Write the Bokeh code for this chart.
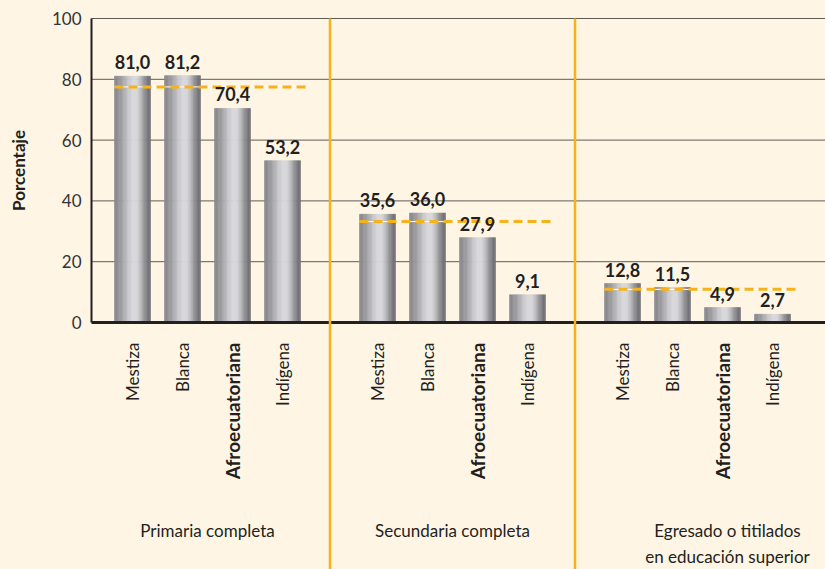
import math
from bokeh.plotting import figure
from bokeh.models import ColumnDataSource, Range1d
from bokeh.core.properties import value
from bokeh.embed import file_html
from bokeh.resources import INLINE

# ---------------- data ----------------
groups = ["Primaria completa", "Secundaria completa",
          "Egresado o titilados\nen educación superior"]
ethnicities = ["Mestiza", "Blanca", "Afroecuatoriana", "Indígena"]
primaria = [81.0, 81.2, 70.4, 53.2]
secundaria = [35.6, 36.0, 27.9, 9.1]
superior = [12.8, 11.5, 4.9, 2.7]
averages = [77.5, 33.2, 10.9]          # dashed reference lines
bold_category = "Afroecuatoriana"
y_ticks = [0, 20, 40, 60, 80, 100]
y_title = "Porcentaje"

series = [primaria, secundaria, superior]

# ---------------- style ----------------
BG = "#FEF5E5"
ORANGE = "#F6B21B"
INK = "#231F20"
FONT = "Lato"
GROUP_STEP = 4.9
BAR_W = 0.72
N_STRIPS = 28

# full-canvas frame: 50 px per category unit, 3.04 px per percentage point
X0, X1 = -2.64, 13.86
Y0, Y1 = -81.25, 105.92
AXIS_X = -0.82

xs, tops, texts, cats = [], [], [], []
for g, vals in enumerate(series):
    for i, v in enumerate(vals):
        xs.append(g * GROUP_STEP + i)
        tops.append(v)
        texts.append(f"{v:.1f}".replace(".", ","))
        cats.append(ethnicities[i])

p = figure(width=825, height=569, x_range=Range1d(X0, X1),
           y_range=Range1d(Y0, Y1), output_backend="svg",
           toolbar_location=None, min_border=0)
p.background_fill_color = BG
p.border_fill_color = BG
p.outline_line_color = None
p.axis.visible = False
p.grid.visible = False

# gridlines
p.segment(x0=[AXIS_X] * (len(y_ticks) - 1), y0=y_ticks[1:],
          x1=[X1] * (len(y_ticks) - 1), y1=y_ticks[1:],
          line_color="#5E5B57", line_width=1)


# gradient bars built from vertical strips
def shade(t):
    pts = [(0.0, 0x8A), (0.58, 0xD8), (1.0, 0x72)]
    for (t0, c0), (t1, c1) in zip(pts[:-1], pts[1:]):
        if t0 <= t <= t1:
            u = (t - t0) / (t1 - t0)
            u = (1 - math.cos(math.pi * u)) / 2
            return c0 + (c1 - c0) * u
    return pts[-1][1]


sw = BAR_W / N_STRIPS
for k in range(N_STRIPS):
    t = (k + 0.5) / N_STRIPS
    c = int(round(shade(t)))
    col = "#%02x%02x%02x" % (c, c, min(255, c + 4))
    off = -BAR_W / 2 + (k + 0.5) * sw
    p.vbar(x=[x + off for x in xs], top=tops, bottom=0, width=sw,
           fill_color=col, line_color=col, line_width=0.6)

# axes lines
p.line([AXIS_X, X1], [0, 0], line_color=INK, line_width=3)
p.line([AXIS_X, AXIS_X], [0, 100], line_color=INK, line_width=2)

# y tick labels and title
p.text(x=[AXIS_X] * len(y_ticks), y=y_ticks, text=[str(t) for t in y_ticks],
       x_offset=-10, text_align="right", text_baseline="middle",
       text_font=value(FONT), text_font_size="17px", text_color="#333333")
p.text(x=[-2.28], y=[50], text=[y_title], angle=math.pi / 2,
       text_align="center", text_baseline="middle", text_font=value(FONT),
       text_font_size="17px", text_font_style="bold", text_color=INK)

# average dashed lines
for g, avg in enumerate(averages):
    x0 = g * GROUP_STEP - 0.36
    x1 = g * GROUP_STEP + 3.46
    p.line([x0, x1], [avg, avg], line_color="white", line_width=1)
    p.line([x0, x1], [avg, avg], line_color=ORANGE, line_width=3,
           line_dash="9 5")

# vertical separators
sep_x = [(g - 1) * GROUP_STEP + 3 + (GROUP_STEP - 3) / 2
         for g in range(1, len(groups))]
p.segment(x0=sep_x, y0=[100] * len(sep_x), x1=sep_x, y1=[Y0] * len(sep_x),
          line_color=ORANGE, line_width=2.5)

# value labels
src = ColumnDataSource(dict(x=xs, y=tops, text=texts))
p.text(x="x", y="y", text="text", source=src, y_offset=-7,
       text_align="center", text_baseline="bottom",
       text_font=value(FONT), text_font_size="18px",
       text_font_style="bold", text_color=INK)

# category labels (rotated)
for style, keep, size in (("normal", False, "17px"), ("bold", True, "19px")):
    sel = [(x, c) for x, c in zip(xs, cats) if (c == bold_category) == keep]
    d = dict(x=[s[0] for s in sel], text=[s[1] for s in sel],
             y=[-6.6] * len(sel))
    p.text(x="x", y="y", text="text", source=ColumnDataSource(d),
           angle=math.pi / 2, text_align="right", text_baseline="middle",
           text_font=value(FONT), text_font_size=size,
           text_font_style=style, text_color=INK)

# group labels
shift = [0, 0, 0.6]
gsrc = ColumnDataSource(dict(
    x=[g * GROUP_STEP + 1.5 + shift[g] for g in range(len(groups))],
    y=[-65.1] * len(groups), text=groups))
p.text(x="x", y="y", text="text", source=gsrc, text_align="center",
       text_baseline="top", text_font=value(FONT), text_font_size="17px",
       text_color=INK, text_line_height=1.2)

html = file_html(p, INLINE)
html = html.replace("<head>", "<head><style>body{background:%s;}</style>" % BG, 1)
open("out.html", "w").write(html)
